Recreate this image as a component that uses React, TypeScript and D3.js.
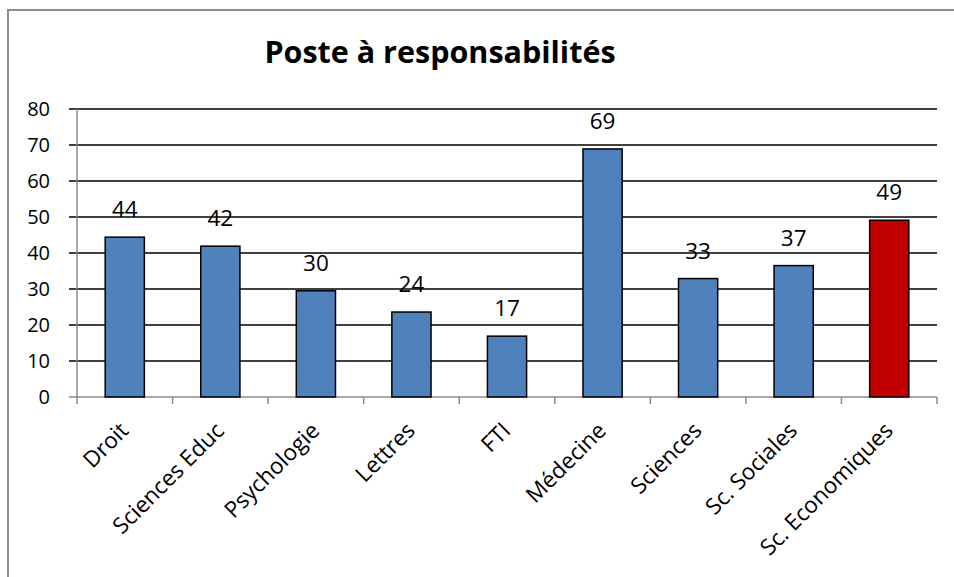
import React, { useEffect } from "react";
import * as d3 from "d3";

const categories = [
  "Droit",
  "Sciences Educ",
  "Psychologie",
  "Lettres",
  "FTI",
  "Médecine",
  "Sciences",
  "Sc. Sociales",
  "Sc. Economiques",
];
const values = [44.4, 41.9, 29.5, 23.6, 16.9, 68.9, 32.9, 36.5, 49.1];
const highlighted = ["Sc. Economiques"];
const yTicks = [0, 10, 20, 30, 40, 50, 60, 70, 80];
const title = "Poste à responsabilités";

const W = 954;
const H = 577;
const plot = { left: 77, right: 937, top: 109, bottom: 397 };
const FONT = "'Open Sans', sans-serif";

export default function App() {
  useEffect(() => {
    document.body.style.margin = "0";
  }, []);

  const x = d3
    .scaleBand<string>()
    .domain(categories)
    .range([plot.left, plot.right])
    .paddingInner(0.59)
    .paddingOuter(0.295);
  const xOuter = d3
    .scaleBand<string>()
    .domain(categories)
    .range([plot.left, plot.right]);
  const y = d3.scaleLinear().domain([0, 80]).range([plot.bottom, plot.top]);
  const fmt = d3.format(".0f");

  return (
    <svg width={W} height={H} style={{ display: "block", background: "#fff" }} fontFamily={FONT}>
      <rect x={8} y={10} width={W + 10} height={H + 10} fill="#fff" stroke="#8c8c8c" strokeWidth={2} />
      <text x={440} y={63} textAnchor="middle" fontSize={30.5} fontWeight="bold" fill="#000">
        {title}
      </text>
      {yTicks.map((t) => (
        <g key={t}>
          {t > 0 && (
            <line x1={plot.left - 8} x2={plot.right} y1={y(t)} y2={y(t)} stroke="#000" strokeWidth={1.6} />
          )}
          <text x={50} y={y(t)} dy="0.36em" textAnchor="end" fontSize={20} fill="#000">
            {t}
          </text>
        </g>
      ))}
      <line x1={plot.left} x2={plot.left} y1={plot.top} y2={plot.bottom + 7} stroke="#8c8c8c" strokeWidth={1.5} />
      <line x1={plot.left - 8} x2={plot.right} y1={plot.bottom} y2={plot.bottom} stroke="#8c8c8c" strokeWidth={1.5} />
      {categories.map((c) => (
        <line
          key={"tk" + c}
          x1={(xOuter(c) as number) + xOuter.bandwidth()}
          x2={(xOuter(c) as number) + xOuter.bandwidth()}
          y1={plot.bottom}
          y2={plot.bottom + 7}
          stroke="#8c8c8c"
          strokeWidth={1.5}
        />
      ))}
      {categories.map((c, i) => (
        <g key={"b" + c}>
          <rect
            x={x(c)}
            y={y(values[i])}
            width={x.bandwidth()}
            height={y(0) - y(values[i])}
            fill={highlighted.includes(c) ? "#C00000" : "#4F81BD"}
            stroke="#000"
            strokeWidth={1.5}
          />
          <text
            x={(x(c) as number) + x.bandwidth() / 2}
            y={y(values[i]) - 20}
            textAnchor="middle"
            fontSize={22.5}
            fill="#000"
          >
            {fmt(values[i])}
          </text>
        </g>
      ))}
      {categories.map((c) => {
        const cx = (xOuter(c) as number) + xOuter.bandwidth() / 2;
        return (
          <text
            key={"l" + c}
            transform={`translate(${cx + 5},${plot.bottom + 35}) rotate(-45)`}
            textAnchor="end"
            fontSize={22.5}
            fill="#000"
          >
            {c}
          </text>
        );
      })}
    </svg>
  );
}
